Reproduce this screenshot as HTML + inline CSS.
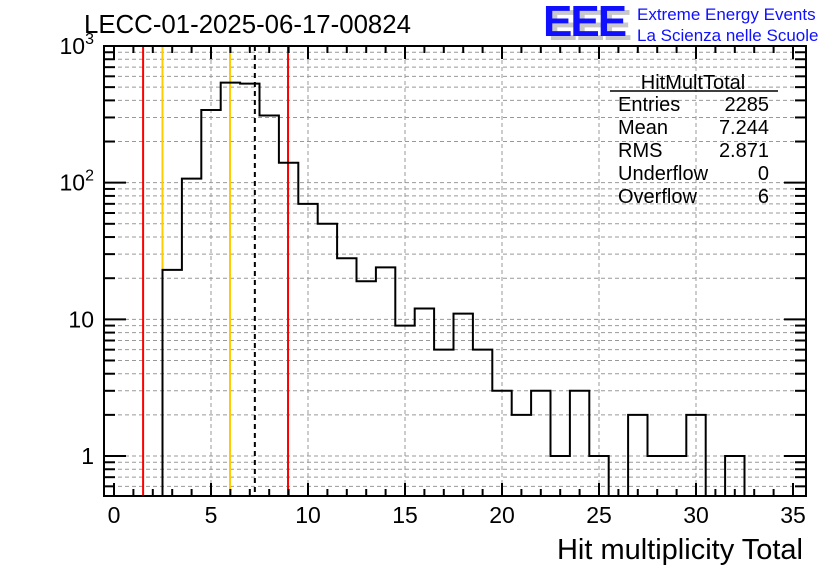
<!DOCTYPE html>
<html><head><meta charset="utf-8"><style>
body{margin:0;background:#fff;}
svg text{font-family:"Liberation Sans",sans-serif;}
</style></head><body>
<svg id="c" width="836" height="572" xmlns="http://www.w3.org/2000/svg">
<rect width="836" height="572" fill="#fff"/>
<g id="grid"></g>
<g id="lines"></g>
<path id="hist" fill="none" stroke="#000" stroke-width="2"/>
<g id="axes"></g>
<rect x="104" y="46" width="702" height="450" fill="none" stroke="#000" stroke-width="2"/>
<text x="84" y="33" font-size="25.8">LECC-01-2025-06-17-00824</text>
<g>
<text x="548" y="40" font-size="44" font-weight="bold" fill="#c8c8c8" letter-spacing="-2">EEE</text>
<text x="543" y="36" font-size="44" font-weight="bold" fill="#1010ff" letter-spacing="-2">EEE</text>
<text x="637" y="20" font-size="17" fill="#1010ff">Extreme Energy Events</text>
<text x="637" y="41" font-size="17" fill="#1010ff">La Scienza nelle Scuole</text>
</g>
<g font-size="20">
<text x="693" y="89" text-anchor="middle">HitMultTotal</text>
<line x1="610" y1="91" x2="778" y2="91" stroke="#000" stroke-width="1.5"/>
<text x="618" y="111">Entries</text><text x="769" y="111" text-anchor="end">2285</text>
<text x="618" y="134">Mean</text><text x="769" y="134" text-anchor="end">7.244</text>
<text x="618" y="157">RMS</text><text x="769" y="157" text-anchor="end">2.871</text>
<text x="618" y="180">Underflow</text><text x="769" y="180" text-anchor="end">0</text>
<text x="618" y="203">Overflow</text><text x="769" y="203" text-anchor="end">6</text>
</g>
<text x="803" y="559" font-size="29" text-anchor="end">Hit multiplicity Total</text>
</svg>
<script>
const binCenters=[3,4,5,6,7,8,9,10,11,12,13,14,15,16,17,18,19,20,21,22,23,24,25,26,27,28,29,30,31,32];
const counts=[23,107,340,540,530,310,140,70,50,28,19,24,9,12,6,11,6,3,2,3,1,3,1,0,2,1,1,2,0,1];
const xTicks=[0,5,10,15,20,25,30,35];
const yTickVals=[1,10,100,1000];
const yTickLabels=["1","10","10²","10³"];
const markerRed=[1.5,8.97];
const markerOrange=[2.5,5.98];
const markerMean=[7.26];
const NS="http://www.w3.org/2000/svg";
const X=v=>114+v*19.4;
const YTOP=46,YBOT=496,DEC=136.67;
const Y=v=>v<=0?YBOT:Math.min(YBOT,YTOP+DEC*(3-Math.log10(v)));
function mk(tag,attrs,parent){const e=document.createElementNS(NS,tag);for(const k in attrs)e.setAttribute(k,attrs[k]);parent.appendChild(e);return e;}
const grid=document.getElementById('grid'),axes=document.getElementById('axes'),lines=document.getElementById('lines');
for(let v=0;v<=35;v++){
  const x=X(v),maj=v%5===0;
  if(maj&&v>0&&v<35){const g=mk('line',{x1:x,y1:YTOP,x2:x,y2:YBOT,stroke:'#999','stroke-dasharray':'4,3','stroke-width':1},grid);
  
  }
  const L=maj?13:7;
  mk('line',{x1:x,y1:YBOT,x2:x,y2:YBOT-L,stroke:'#000','stroke-width':2},axes);
  mk('line',{x1:x,y1:YTOP,x2:x,y2:YTOP+L,stroke:'#000','stroke-width':2},axes);
}
xTicks.forEach(v=>{const t=mk('text',{x:X(v),y:523,'font-size':23,'text-anchor':'middle'},axes);t.textContent=v;

});
for(let d=-1;d<3;d++){for(let m=1;m<10;m++){const v=m*Math.pow(10,d);if(v<0.5)continue;const y=Y(v);if(y>=YBOT)continue;
  const maj=m===1;
  if(y>YTOP+1){const g=mk('line',{x1:104,y1:y,x2:806,y2:y,stroke:'#999','stroke-dasharray':'4,3','stroke-width':1},grid);
  
  }
  const L=maj?22:11;
  mk('line',{x1:104,y1:y,x2:104+L,y2:y,stroke:'#000','stroke-width':2},axes);
  mk('line',{x1:806,y1:y,x2:806-L,y2:y,stroke:'#000','stroke-width':2},axes);
}}
yTickVals.forEach((v,i)=>{const y=Y(v);const t=mk('text',{x:94,y:y+8,'font-size':23,'text-anchor':'end'},axes);
 if(v>=100){t.textContent='10';const s=mk('tspan',{dy:-10,'font-size':16},t);s.textContent=String(Math.log10(v));}else t.textContent=yTickLabels[i];

});
function vline(v,col,dash,name){const l=mk('line',{x1:X(v),y1:YTOP,x2:X(v),y2:YBOT,stroke:col,'stroke-width':2},lines);if(dash)l.setAttribute('stroke-dasharray',dash);

}
markerRed.forEach(v=>vline(v,'#ff0000',null,'red-marker-line'));
markerOrange.forEach(v=>vline(v,'#ffcc00',null,'orange-marker-line'));
markerMean.forEach(v=>vline(v,'#000','5,4','mean-marker-line'));
let d='';
binCenters.forEach((c,i)=>{const x0=X(c-0.5),x1=X(c+0.5),y=Y(counts[i]);
 d+=(i===0?`M${x0},${YBOT}`:'')+`L${x0},${y}L${x1},${y}`;});
d+=`L${X(binCenters[binCenters.length-1]+0.5)},${YBOT}`;
document.getElementById('hist').setAttribute('d',d);
</script>
</body></html>
